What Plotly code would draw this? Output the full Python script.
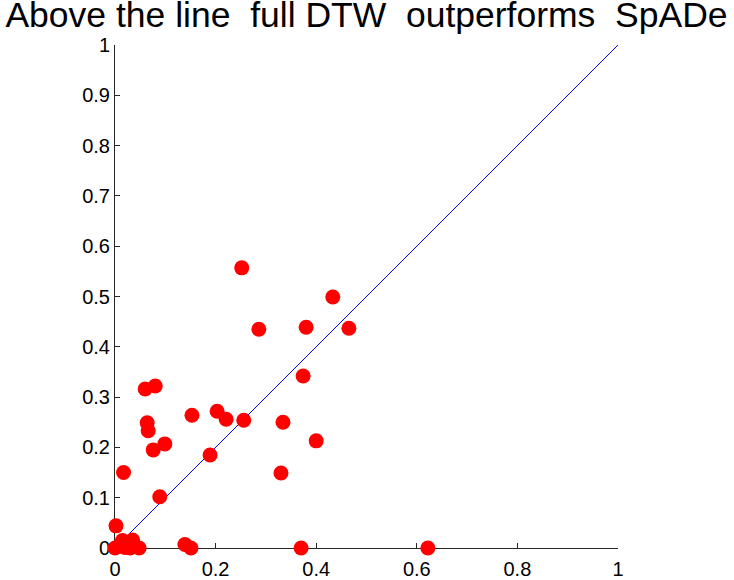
import plotly.graph_objects as go

# DTW error (x) vs SpADe error (y)
x_vals = [0.252, 0.433, 0.286, 0.380, 0.465, 0.374, 0.060, 0.080, 0.064, 0.066,
          0.153, 0.203, 0.221, 0.256, 0.334, 0.400, 0.099, 0.076, 0.189, 0.017,
          0.330, 0.089, 0.002, 0.000, 0.007, 0.015, 0.035, 0.020, 0.030, 0.048,
          0.139, 0.151, 0.370, 0.622]
y_vals = [0.557, 0.499, 0.435, 0.439, 0.437, 0.342, 0.316, 0.322, 0.249, 0.233,
          0.264, 0.272, 0.256, 0.254, 0.250, 0.213, 0.207, 0.195, 0.185, 0.150,
          0.149, 0.102, 0.044, 0.000, 0.003, 0.015, 0.016, 0.001, 0.000, 0.000,
          0.007, 0.000, 0.000, 0.000]
diag = [0, 1]
tick_vals = [0, 0.1, 0.2, 0.3, 0.4, 0.5, 0.6, 0.7, 0.8, 0.9, 1]
tick_text = ["0", "0.1", "0.2", "0.3", "0.4", "0.5", "0.6", "0.7", "0.8", "0.9", "1"]
x_tick_vals = [0, 0.2, 0.4, 0.6, 0.8, 1]
x_tick_text = ["0", "0.2", "0.4", "0.6", "0.8", "1"]
title_text = "Above the line  full DTW  outperforms  SpADe"

fig = go.Figure()
fig.add_trace(go.Scatter(x=diag, y=diag, mode="lines",
                         line=dict(color="#0000ff", width=1), showlegend=False,
                         hoverinfo="skip"))
fig.add_trace(go.Scatter(x=x_vals, y=y_vals, mode="markers",
                         marker=dict(color="#ff0000", size=15, line=dict(width=0)),
                         cliponaxis=False, showlegend=False))

axis_common = dict(range=[0, 1], showgrid=False, zeroline=False, showline=True,
                   linecolor="#262626", linewidth=1, ticks="inside", ticklen=5,
                   tickcolor="#262626", tickfont=dict(size=20, color="black"),
                   layer="below traces", mirror=False, automargin=False)

fig.update_layout(
    width=734, height=580,
    margin=dict(l=115, r=116, t=45, b=32, autoexpand=False),
    paper_bgcolor="white", plot_bgcolor="white",
    font=dict(family="Liberation Sans, Arial, sans-serif", color="black"),
    title=dict(text=title_text, x=366.5 / 734, xanchor="center", xref="container",
               y=1 - 2 / 580, yanchor="top", yref="container",
               font=dict(size=35.5, color="black")),
    xaxis=dict(tickmode="array", tickvals=x_tick_vals, ticktext=x_tick_text,
               ticklabelstandoff=3, **axis_common),
    yaxis=dict(tickmode="array", tickvals=tick_vals, ticktext=tick_text,
               **axis_common),
)

fig.write_html("out.html")
